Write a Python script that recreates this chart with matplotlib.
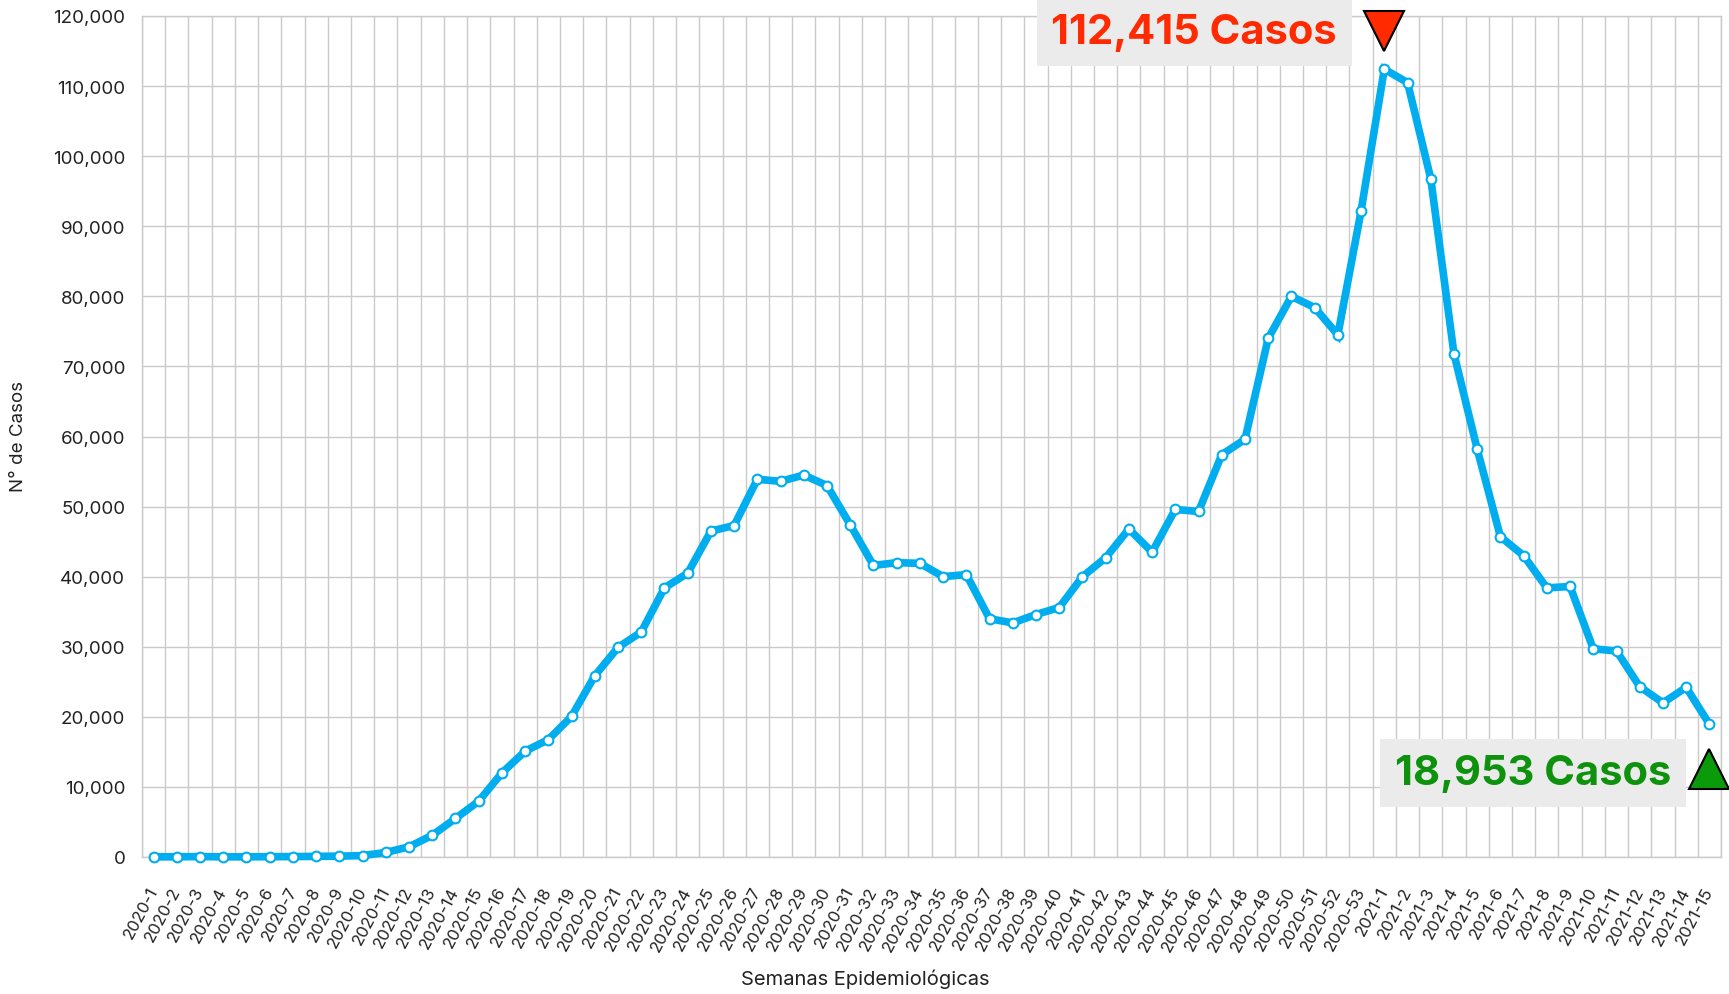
import matplotlib
matplotlib.use("Agg")
import matplotlib.pyplot as plt
import matplotlib.transforms as mtransforms
from matplotlib.ticker import FuncFormatter, MultipleLocator, FixedLocator

plt.rcParams['font.family'] = ['Inter', 'DejaVu Sans']

# Semanas epidemiologicas 2020-1 .. 2020-53, 2021-1 .. 2021-15
semanas = [f"2020-{i}" for i in range(1, 54)] + [f"2021-{i}" for i in range(1, 16)]

casos = [
    20, 30, 60, 20, 30, 40, 60, 90, 120, 200,
    650, 1450, 3100, 5500, 7960, 12000, 15100, 16750, 20070, 25870,
    29900, 32100, 38400, 40500, 46500, 47300, 53900, 53600, 54500, 53000,
    47400, 41600, 42000, 41900, 40000, 40300, 34000, 33400, 34600, 35600,
    40000, 42700, 46800, 43500, 49600, 49300, 57400, 59600, 74000, 80000,
    78400, 74500, 92200,
    112415, 110500, 96800, 71800, 58200, 45700, 43000, 38400, 38600, 29700,
    29400, 24300, 22000, 24200, 18953,
]

pico_label = "112,415 Casos"
ultimo_label = "18,953 Casos"

azul = "#00AEEF"
rojo = "#FF2A00"
verde = "#0E920E"
gris_grid = "#CACACA"

fig = plt.figure(figsize=(17.29, 9.95), dpi=100)
ax = fig.add_axes([142 / 1729, 1 - 858 / 995, (1721 - 142) / 1729, (858 - 17) / 995])

x = list(range(len(semanas)))
ax.plot(x, casos, color=azul, lw=5.5, marker="o", ms=7, mfc="white",
        mec=azul, mew=1.5, zorder=3, clip_on=False, solid_joinstyle="miter")

ax.set_xlim(-0.5, len(semanas) - 0.5)
ax.set_ylim(0, 120000)
ax.yaxis.set_major_locator(MultipleLocator(10000))
ax.yaxis.set_major_formatter(FuncFormatter(lambda v, p: f"{int(v):,}"))

ax.set_xticks(x)
ax.set_xticklabels(semanas, rotation=62, ha="right", rotation_mode="anchor",
                   va="center", fontsize=12, color="#222222")
ax.xaxis.set_minor_locator(FixedLocator([i - 0.5 for i in range(len(semanas) + 1)]))
ax.tick_params(axis="x", which="both", length=0, pad=22)
ax.tick_params(axis="y", length=0, pad=12, labelsize=13.5, labelcolor="#222222")

ax.grid(axis="y", which="major", color=gris_grid, lw=1)
ax.grid(axis="x", which="minor", color=gris_grid, lw=1)
ax.grid(axis="x", which="major", visible=False)
for s in ax.spines.values():
    s.set_color(gris_grid)
    s.set_linewidth(1)

fig.text(19 / 1729, 1 - 436 / 995, "N° de Casos", rotation=90, ha="center",
         va="center", fontsize=13.5, color="#222222")
fig.text(865 / 1729, 1 - 979 / 995, "Semanas Epidemiológicas", ha="center",
         va="center", fontsize=14.5, color="#222222")

# anotaciones
i_pico = casos.index(max(casos))
i_ult = len(casos) - 1
trans = mtransforms.blended_transform_factory(ax.transData, ax.transAxes)

ax.plot([i_pico], [0.982], marker="v", ms=29, color=rojo, mec="black",
        mew=1.5, transform=trans, clip_on=False, zorder=5)
ax.plot([i_ult], [0.1046], marker="^", ms=29, color="#0A9A0A", mec="black",
        mew=1.5, transform=trans, clip_on=False, zorder=5)

fig.text(1337 / 1729, 1 - 44 / 995, pico_label, ha="right", va="baseline",
         fontsize=30, weight="bold", color=rojo,
         bbox=dict(boxstyle="square,pad=0.35", fc="#EBEBEB", ec="none"))
fig.text(1671 / 1729, 1 - 785 / 995, ultimo_label, ha="right", va="baseline",
         fontsize=30, weight="bold", color=verde,
         bbox=dict(boxstyle="square,pad=0.35", fc="#EBEBEB", ec="none"))

fig.savefig("out.png", dpi=100)
plt.close(fig)
